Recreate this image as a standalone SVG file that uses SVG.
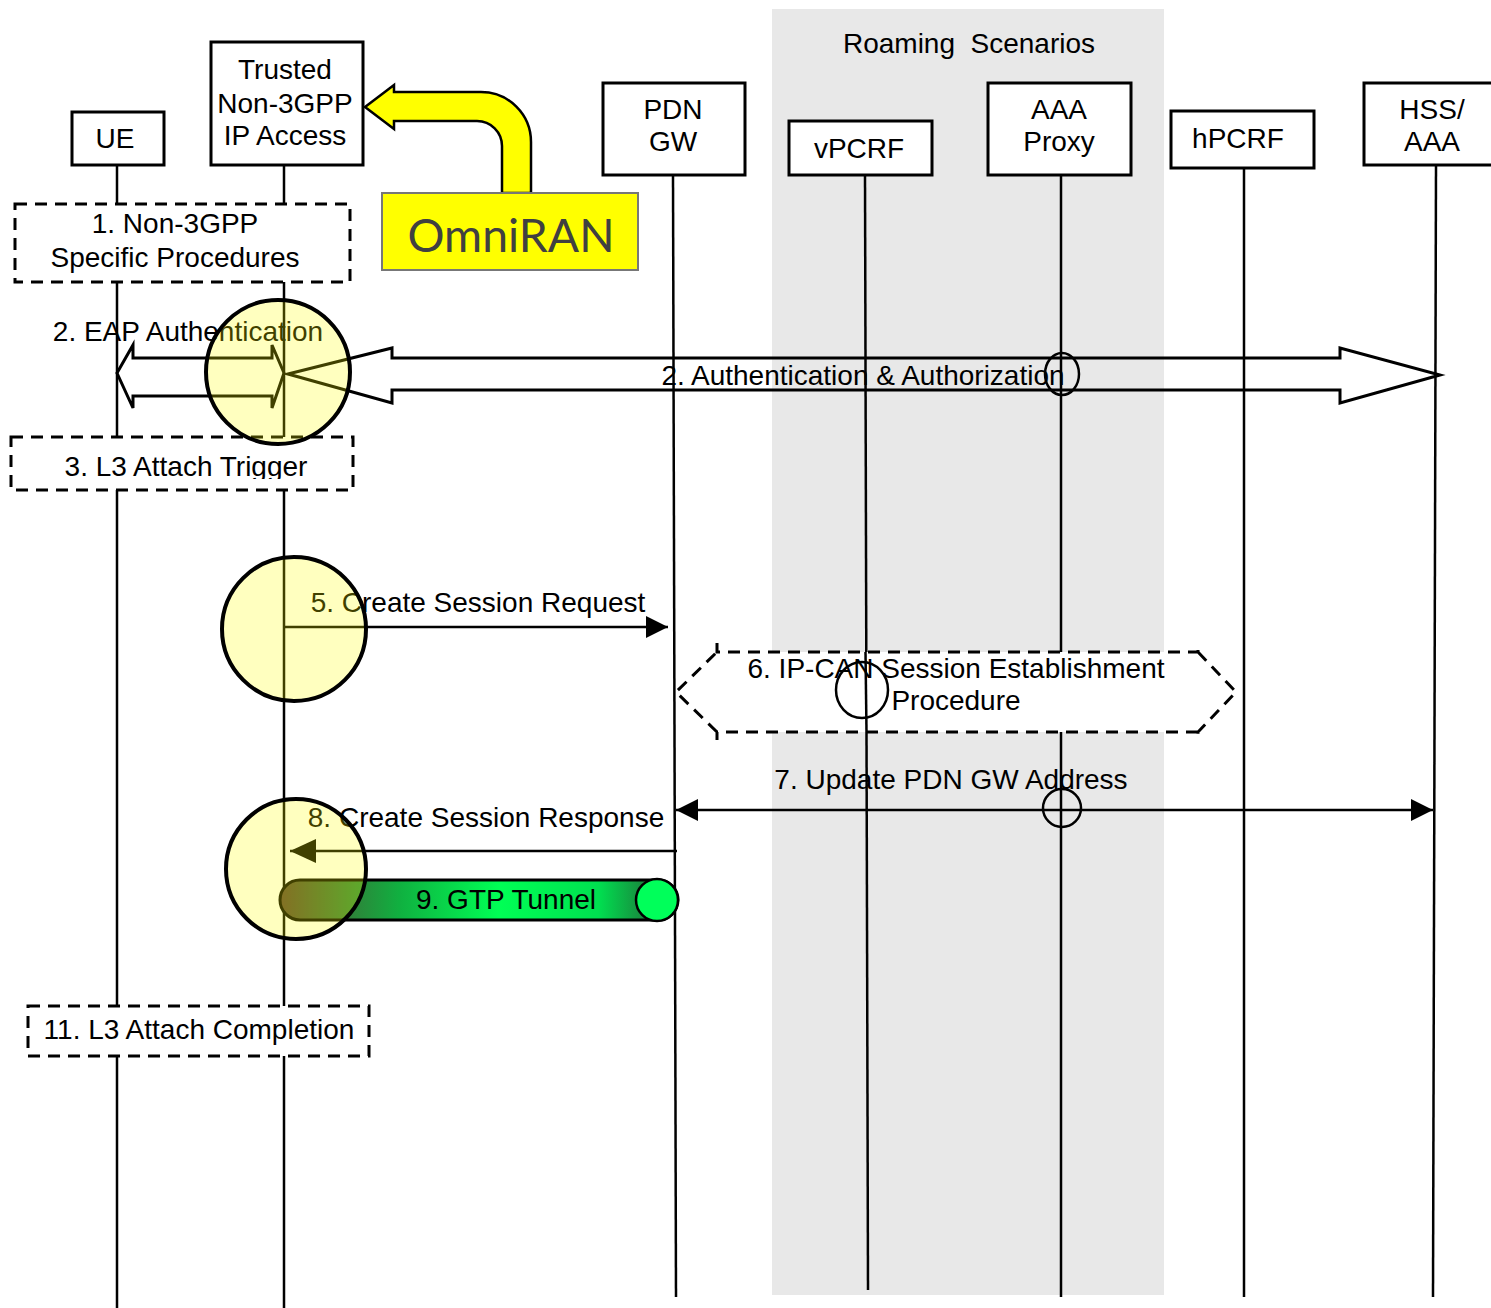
<svg xmlns="http://www.w3.org/2000/svg" width="1491" height="1308" viewBox="0 0 1491 1308">
<style>
text{font-family:"Liberation Sans",Arial,sans-serif;font-size:28px;fill:#000}
.box{fill:#fff;stroke:#000;stroke-width:3}
.dash{fill:#fff;stroke:#000;stroke-width:3;stroke-dasharray:12 8}
.life{stroke:#000;stroke-width:2.5;fill:none}
.msg{stroke:#000;stroke-width:2.5;fill:none}
.hi{fill:#ffff00;fill-opacity:0.25;stroke:#000;stroke-width:4}
.ring{fill:none;stroke:#000;stroke-width:2.5}
</style>
<defs>
<marker id="ah" markerUnits="userSpaceOnUse" markerWidth="24" markerHeight="24" refX="22" refY="11" orient="auto-start-reverse">
<path d="M0,0 L22,11 L0,22 Z" fill="#000"/>
</marker>
<marker id="ahb" markerUnits="userSpaceOnUse" markerWidth="28" markerHeight="28" refX="26" refY="12" orient="auto">
<path d="M0,0 L26,12 L0,24 Z" fill="#000"/>
</marker>
<linearGradient id="gtp" x1="280" y1="0" x2="678" y2="0" gradientUnits="userSpaceOnUse">
<stop offset="0" stop-color="#5a4030"/>
<stop offset="0.3" stop-color="#10b040"/>
<stop offset="0.55" stop-color="#00ff55"/>
<stop offset="0.8" stop-color="#00e050"/>
<stop offset="1" stop-color="#2a4a30"/>
</linearGradient>
<clipPath id="clip3"><rect x="0" y="437" width="400" height="42"/></clipPath>
</defs>

<rect x="772" y="9" width="392" height="1286" fill="#e8e8e8"/>
<text x="969" y="53" text-anchor="middle" xml:space="preserve">Roaming  Scenarios</text>

<g id="lifelines">
<line class="life" x1="117" y1="165" x2="117" y2="1308"/>
<line class="life" x1="284" y1="165" x2="284" y2="1308"/>
<line class="life" x1="673" y1="175" x2="676" y2="1297"/>
<line class="life" x1="865" y1="175" x2="868" y2="1290"/>
<line class="life" x1="1061" y1="175" x2="1061" y2="1297"/>
<line class="life" x1="1244" y1="168" x2="1244" y2="1297"/>
<line class="life" x1="1436" y1="165" x2="1433" y2="1297"/>
</g>

<g id="ue"><rect class="box" x="72" y="112" width="92" height="53"/><text x="115" y="148" text-anchor="middle">UE</text></g>
<g id="trusted"><rect class="box" x="211" y="42" width="152" height="123"/>
<text x="285" y="79" text-anchor="middle">Trusted</text>
<text x="285" y="113" text-anchor="middle">Non-3GPP</text>
<text x="285" y="145" text-anchor="middle">IP Access</text></g>
<g id="pdngw"><rect class="box" x="603" y="83" width="142" height="92"/>
<text x="673" y="119" text-anchor="middle">PDN</text><text x="673" y="151" text-anchor="middle">GW</text></g>
<g id="vpcrf"><rect class="box" x="789" y="121" width="143" height="54"/><text x="859" y="158" text-anchor="middle">vPCRF</text></g>
<g id="aaaproxy"><rect class="box" x="988" y="83" width="143" height="92"/>
<text x="1059" y="119" text-anchor="middle">AAA</text><text x="1059" y="151" text-anchor="middle">Proxy</text></g>
<g id="hpcrf"><rect class="box" x="1171" y="111" width="143" height="57"/><text x="1238" y="148" text-anchor="middle">hPCRF</text></g>
<g id="hss"><rect class="box" x="1364" y="83" width="140" height="82"/>
<text x="1432" y="119" text-anchor="middle">HSS/</text><text x="1432" y="151" text-anchor="middle">AAA</text></g>

<g id="omniran">
<path d="M365,107 L394,85 L394,92 L481,92 A50,50 0 0 1 531,142 L531,193 L502,193 L502,146 A25,25 0 0 0 477,121 L394,121 L394,129 Z" fill="#ffff00" stroke="#000" stroke-width="2.5"/>
<rect x="382" y="193" width="256" height="77" fill="#ffff00" stroke="#777" stroke-width="2"/>
<text x="511" y="252" text-anchor="middle" style="font-family:Lato,'Open Sans',sans-serif;font-size:46px;fill:#404040" textLength="207" lengthAdjust="spacingAndGlyphs">OmniRAN</text>
</g>

<g id="step1"><rect class="dash" x="15" y="204" width="335" height="78"/>
<text x="175" y="233" text-anchor="middle">1. Non-3GPP</text>
<text x="175" y="267" text-anchor="middle">Specific Procedures</text></g>

<g id="step3"><rect class="dash" x="11" y="437" width="342" height="53"/>
<text x="186" y="476" text-anchor="middle" clip-path="url(#clip3)">3. L3 Attach Trigger</text></g>

<g id="step6">
<path d="M717,652 L1198,652 L1236,692 L1198,732 L717,732 L676,692 Z" fill="#fff"/>
<path d="M717,643 L717,652 L1198,652 L1198,643 M1198,652 L1236,692 L1198,732 L1198,740 M1198,732 L717,732 L717,740 M717,732 L676,692 L717,652" fill="none" stroke="#000" stroke-width="3" stroke-dasharray="12 8"/>
<line class="life" x1="865.5" y1="652" x2="866.5" y2="732"/>
<text x="956" y="678" text-anchor="middle">6. IP-CAN Session Establishment</text>
<text x="956" y="710" text-anchor="middle">Procedure</text>
</g>

<g id="step11"><rect class="dash" x="28" y="1006" width="341" height="50"/>
<text x="199" y="1039" text-anchor="middle">11. L3 Attach Completion</text></g>

<g id="connectors">
<path d="M117,373 L133,345 L133,358 L272,358 L272,345 L284,373 L272,408 L272,396 L133,396 L133,408 Z" fill="none" stroke="#000" stroke-width="3"/>
<path d="M288,374 L392,348 L392,358 L1340,358 L1340,348 L1440,375 L1340,403 L1340,390 L392,390 L392,403 Z" fill="none" stroke="#000" stroke-width="3"/>
<line class="msg" x1="284" y1="627" x2="668" y2="627" marker-end="url(#ah)"/>
<line class="msg" x1="676" y1="810" x2="1433" y2="810" marker-start="url(#ah)" marker-end="url(#ah)"/>
<line class="msg" x1="677" y1="851" x2="290" y2="851" marker-end="url(#ahb)"/>
<rect x="280" y="880" width="398" height="40" rx="20" ry="20" fill="url(#gtp)" stroke="#000" stroke-width="3"/>
<circle cx="657" cy="900" r="21" fill="#00ff5a" stroke="#000" stroke-width="2.5"/>
</g>

<g id="labels">
<text x="188" y="341" text-anchor="middle">2. EAP Authentication</text>
<text x="863" y="385" text-anchor="middle">2. Authentication &amp; Authorization</text>
<text x="478" y="612" text-anchor="middle">5. Create Session Request</text>
<text x="951" y="789" text-anchor="middle">7. Update PDN GW Address</text>
<text x="486" y="827" text-anchor="middle">8. Create Session Response</text>
<text x="506" y="909" text-anchor="middle">9. GTP Tunnel</text>
</g>

<g id="highlights">
<circle class="hi" cx="278" cy="372" r="72"/>
<circle class="hi" cx="294" cy="629" r="72"/>
<circle class="hi" cx="296" cy="869" r="70"/>
<ellipse class="ring" cx="1062" cy="374" rx="17" ry="21"/>
<ellipse class="ring" cx="862" cy="690" rx="26" ry="28"/>
<ellipse class="ring" cx="1062" cy="808" rx="19" ry="19"/>
</g>
</svg>
